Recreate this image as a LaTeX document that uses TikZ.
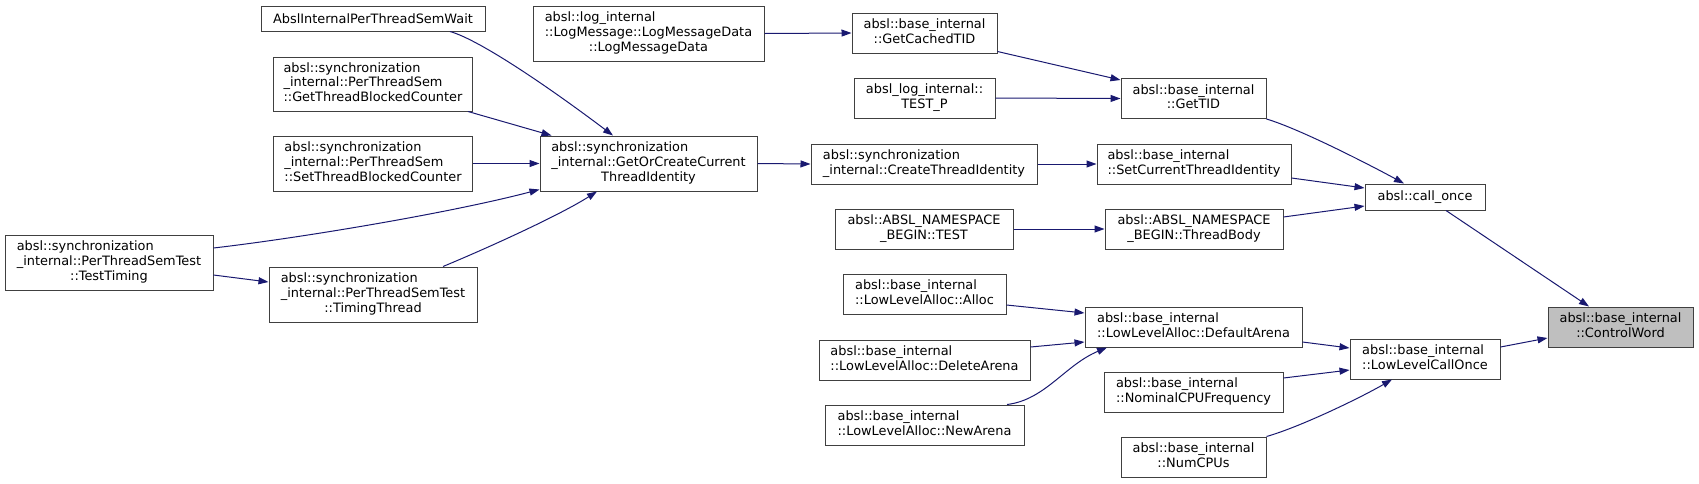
\documentclass[tikz,border=0pt]{standalone}
\usepackage{fontspec}
\setmainfont{DejaVu Sans}
\usetikzlibrary{arrows.meta}
\definecolor{edgeblue}{HTML}{191970}
\definecolor{boxline}{HTML}{404040}
\definecolor{focusfill}{HTML}{BFBFBF}
\newcommand\dxtwo[2]{\begin{tabular}{@{}l@{}}#1\\\multicolumn{1}{@{}c@{}}{#2}\end{tabular}}
\newcommand\dxthree[3]{\begin{tabular}{@{}l@{}}#1\\#2\\\multicolumn{1}{@{}c@{}}{#3}\end{tabular}}
\begin{document}
\begin{tikzpicture}[x=1pt,y=-1pt,
  fn/.style={draw=boxline, line width=1pt, fill=white, inner sep=0pt,
    font=\fontsize{12.9}{14.7}\selectfont, text=black},
  focus/.style={fn, fill=focusfill},
  calls/.style={draw=edgeblue, line width=1pt, -{Triangle[length=10pt,width=7pt]}}]
\useasboundingbox (0,0) rectangle (1699,483);

\node[fn, minimum width=224pt, minimum height=25pt] (wait) at (373,18.5) {AbslInternalPerThreadSemWait};
\node[fn, minimum width=199pt, minimum height=54pt] (getblk) at (373,84) {\dxthree{absl::synchronization}{\_internal::PerThreadSem}{::GetThreadBlockedCounter}};
\node[fn, minimum width=199pt, minimum height=55pt] (setblk) at (373,163.5) {\dxthree{absl::synchronization}{\_internal::PerThreadSem}{::SetThreadBlockedCounter}};
\node[fn, minimum width=208pt, minimum height=55pt] (testtiming) at (109,262.5) {\dxthree{absl::synchronization}{\_internal::PerThreadSemTest}{::TestTiming}};
\node[fn, minimum width=208pt, minimum height=55pt] (timingthread) at (373,294.5) {\dxthree{absl::synchronization}{\_internal::PerThreadSemTest}{::TimingThread}};
\node[fn, minimum width=217pt, minimum height=55pt] (getorcreate) at (648.5,163.5) {\dxthree{absl::synchronization}{\_internal::GetOrCreateCurrent}{ThreadIdentity}};
\node[fn, minimum width=231pt, minimum height=55pt] (logmsg) at (648.5,33.5) {\dxthree{absl::log\_internal}{::LogMessage::LogMessageData}{::LogMessageData}};
\node[fn, minimum width=145pt, minimum height=40pt] (cachedtid) at (924.5,33) {\dxtwo{absl::base\_internal}{::GetCachedTID}};
\node[fn, minimum width=141pt, minimum height=40pt] (testp) at (924.5,98) {\dxtwo{absl\_log\_internal::}{TEST\_P}};
\node[fn, minimum width=226pt, minimum height=40pt] (createtid) at (924,164) {\dxtwo{absl::synchronization}{\_internal::CreateThreadIdentity}};
\node[fn, minimum width=178pt, minimum height=40pt] (abseltest) at (924,229) {\dxtwo{absl::ABSL\_NAMESPACE}{\_BEGIN::TEST}};
\node[fn, minimum width=145pt, minimum height=40pt] (gettid) at (1193.5,98.5) {\dxtwo{absl::base\_internal}{::GetTID}};
\node[fn, minimum width=194pt, minimum height=40pt] (setcur) at (1194,164) {\dxtwo{absl::base\_internal}{::SetCurrentThreadIdentity}};
\node[fn, minimum width=178pt, minimum height=40pt] (threadbody) at (1194,229) {\dxtwo{absl::ABSL\_NAMESPACE}{\_BEGIN::ThreadBody}};
\node[fn, minimum width=120pt, minimum height=26pt] (callonce) at (1425,197) {absl::call\_once};
\node[fn, minimum width=163pt, minimum height=40pt] (alloc) at (924.5,294) {\dxtwo{absl::base\_internal}{::LowLevelAlloc::Alloc}};
\node[fn, minimum width=211pt, minimum height=40pt] (delarena) at (924.5,360) {\dxtwo{absl::base\_internal}{::LowLevelAlloc::DeleteArena}};
\node[fn, minimum width=199pt, minimum height=40pt] (newarena) at (924.5,425) {\dxtwo{absl::base\_internal}{::LowLevelAlloc::NewArena}};
\node[fn, minimum width=217pt, minimum height=40pt] (defarena) at (1193.5,327) {\dxtwo{absl::base\_internal}{::LowLevelAlloc::DefaultArena}};
\node[fn, minimum width=150pt, minimum height=40pt] (llcallonce) at (1425,359) {\dxtwo{absl::base\_internal}{::LowLevelCallOnce}};
\node[fn, minimum width=179pt, minimum height=40pt] (nominal) at (1193.5,392) {\dxtwo{absl::base\_internal}{::NominalCPUFrequency}};
\node[fn, minimum width=145pt, minimum height=40pt] (numcpus) at (1193.5,457) {\dxtwo{absl::base\_internal}{::NumCPUs}};
\node[focus, minimum width=145pt, minimum height=40pt] (controlword) at (1620.5,327) {\dxtwo{absl::base\_internal}{::ControlWord}};

\draw[calls] ([xshift=77pt]wait.south) .. controls (480,40) and (550,88) .. ([xshift=-35.5pt]getorcreate.north);
\draw[calls] ([xshift=-5pt]getblk.south east) -- ([xshift=12pt]getorcreate.north west);
\draw[calls] (setblk.east) -- (getorcreate.west);
\draw[calls] ([yshift=14.5pt]testtiming.east) .. controls (300,238) and (450,213) .. ([yshift=2pt]getorcreate.south west);
\draw[calls] ([xshift=70pt]timingthread.north) .. controls (490,247) and (560,215) .. ([xshift=-51.5pt]getorcreate.south);
\draw[calls] ([yshift=-12.5pt]testtiming.east) -- ([yshift=12.5pt]timingthread.west);
\draw[calls] (logmsg.east) -- (cachedtid.west);
\draw[calls] ([yshift=2pt]cachedtid.south east) -- ([yshift=-2pt]gettid.north west);
\draw[calls] (testp.east) -- (gettid.west);
\draw[calls] (gettid.south east) .. controls (1300,129) and (1370,165) .. ([xshift=-21pt]callonce.north);
\draw[calls] (getorcreate.east) -- (createtid.west);
\draw[calls] (createtid.east) -- (setcur.west);
\draw[calls] ([yshift=-14pt]setcur.east) -- ([yshift=9pt]callonce.west);
\draw[calls] (abseltest.east) -- (threadbody.west);
\draw[calls] ([yshift=12pt]threadbody.east) -- ([yshift=-9pt]callonce.west);
\draw[calls] ([xshift=21pt]callonce.south) -- ([xshift=-31.5pt]controlword.north);
\draw[calls] ([yshift=-11pt]alloc.east) -- ([yshift=14pt]defarena.west);
\draw[calls] ([yshift=13pt]delarena.east) -- ([yshift=-15pt]defarena.west);
\draw[calls] ([xshift=82.5pt]newarena.north) .. controls (1045,400) and (1065,365) .. ([xshift=-86.5pt]defarena.south);
\draw[calls] ([yshift=-15pt]defarena.east) -- ([yshift=11pt]llcallonce.west);
\draw[calls] ([yshift=14pt]nominal.east) -- ([yshift=-11pt]llcallonce.west);
\draw[calls] (numcpus.north east) .. controls (1300,427) and (1360,398) .. ([xshift=-33pt]llcallonce.south);
\draw[calls] ([yshift=12pt]llcallonce.east) -- ([yshift=-11pt]controlword.west);
\end{tikzpicture}
\end{document}
